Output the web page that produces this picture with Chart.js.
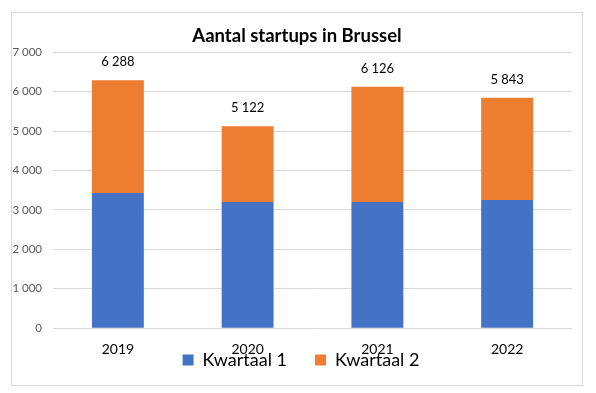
<!DOCTYPE html>
<html>
<head>
<meta charset="utf-8">
<script src="https://cdn.jsdelivr.net/npm/chart.js@4"></script>
<style>
  body { margin: 0; background: #fff; }
  #frame {
    position: absolute; left: 11px; top: 12px;
    width: 572px; height: 374px;
    box-sizing: border-box; border: 1px solid #d9d9d9;
  }
  canvas { display: block; }
</style>
</head>
<body>
<div id="frame"><canvas id="startupChart" width="570" height="372"></canvas></div>
<script>
let years = ['2019', '2020', '2021', '2022'];
let kwartaal1 = [3430, 3200, 3200, 3250];
let kwartaal2 = [2858, 1922, 2926, 2593];
let yTicks = [0, 1000, 2000, 3000, 4000, 5000, 6000, 7000];

// "6288" -> "6 288"
function spaced(v) {
    return String(v).replace(/\B(?=(\d{3})+(?!\d))/g, ' ');
}

// total above every stacked bar
const totalLabels = {
    id: 'totalLabels',
    afterDatasetsDraw(chart) {
        let ctx = chart.ctx;
        let top = chart.getDatasetMeta(chart.data.datasets.length - 1);
        ctx.save();
        ctx.font = '13px Lato';
        ctx.fillStyle = '#000';
        ctx.textAlign = 'center';
        ctx.textBaseline = 'middle';
        top.data.forEach((bar, i) => {
            let sum = chart.data.datasets.reduce((a, ds) => a + ds.data[i], 0);
            ctx.fillText(spaced(sum), bar.x, bar.y - 18);
        });
        ctx.restore();
    }
};

// excel puts the legend over the year labels, so pull it up after layout
const liftLegend = {
    id: 'liftLegend',
    afterLayout(chart) {
        let lg = chart.legend;
        lg.top -= 48;
        lg.bottom -= 48;
        lg.left += 9;
        lg.right += 9;
        chart.titleBlock.left += 5;
        chart.titleBlock.right += 5;
    }
};

new Chart(document.getElementById('startupChart'), {
    type: 'bar',
    data: {
        labels: years,
        datasets: [{
            label: 'Kwartaal 1',
            data: kwartaal1,
            backgroundColor: '#4472C4',
            categoryPercentage: 1,
            barPercentage: 0.4
        }, {
            label: 'Kwartaal 2',
            data: kwartaal2,
            backgroundColor: '#ED7D31',
            categoryPercentage: 1,
            barPercentage: 0.4
        }]
    },
    options: {
        responsive: false,
        animation: false,
        layout: { padding: { left: 0, right: 10, top: 0, bottom: -42 } },
        plugins: {
            title: {
                display: true,
                text: 'Aantal startups in Brussel',
                color: '#000',
                font: { family: 'Lato', size: 18.5, weight: 'bold' },
                padding: { top: 12, bottom: 5 }
            },
            legend: {
                position: 'bottom',
                labels: {
                    boxWidth: 11,
                    boxHeight: 11,
                    padding: 28,
                    color: '#000',
                    font: { family: 'Lato', size: 18 }
                }
            },
            tooltip: { enabled: false }
        },
        scales: {
            x: {
                stacked: true,
                grid: { display: false, drawTicks: false },
                border: { display: false },
                ticks: {
                    padding: 13,
                    color: '#000',
                    font: { family: 'Lato', size: 14 }
                }
            },
            y: {
                stacked: true,
                min: 0,
                max: 7000,
                afterBuildTicks: scale => {
                    scale.ticks = yTicks.map(v => ({ value: v }));
                },
                afterFit: scale => { scale.width = 41; },
                grid: { color: '#d9d9d9', drawTicks: false },
                border: { display: false },
                ticks: {
                    padding: 11,
                    color: '#595959',
                    font: { family: 'Lato', size: 11.5 },
                    callback: v => spaced(v)
                }
            }
        }
    },
    plugins: [totalLabels, liftLegend]
});
</script>
</body>
</html>
